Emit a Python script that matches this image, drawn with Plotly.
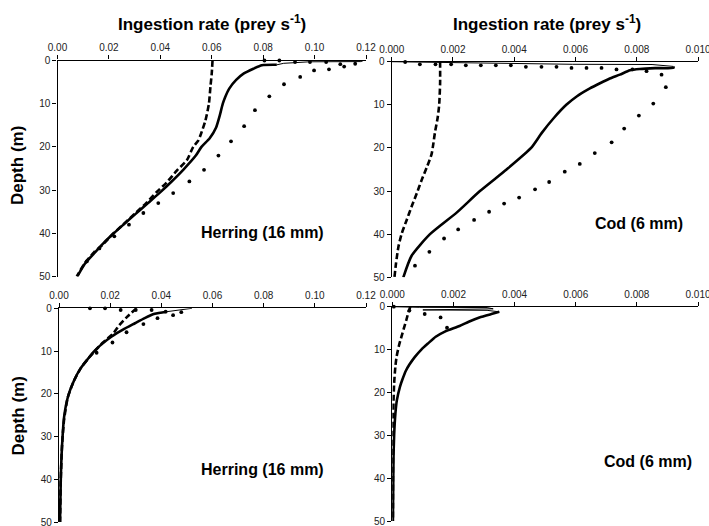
import plotly.graph_objects as go

# ---------------- data (ingestion rate vs depth) ----------------
# Top-left: Herring (16 mm)
tl_dash_d = [0, 3, 6, 10, 14, 17, 18.5, 20, 23.1, 25.5, 28.2, 30.5, 33, 35.5, 38, 40, 42.5, 44.4, 47, 50]
tl_dash_x = [0.0603, 0.0600, 0.0595, 0.0589, 0.0575, 0.0558, 0.0548, 0.0528, 0.0503, 0.0464, 0.0425,
             0.0385, 0.0345, 0.0300, 0.0255, 0.0218, 0.0178, 0.0142, 0.0105, 0.0075]
tl_surf_d = [0, 0.25, 0.3, 0.65, 1.0]
tl_surf_x = [0.119, 0.118, 0.098, 0.088, 0.0853]
tl_solid_d = [1.0, 1.1, 1.9, 3.0, 4.5, 6.5, 8.5, 10, 13, 15.5, 18, 20, 22, 25.3, 28, 30.7, 33, 35.5,
              37.7, 40, 42.2, 44.4, 47, 50]
tl_solid_x = [0.0853, 0.0795, 0.0762, 0.0725, 0.0695, 0.0668, 0.0652, 0.0643, 0.0630, 0.0617, 0.0592,
              0.0560, 0.0538, 0.0489, 0.0444, 0.0396, 0.0352, 0.0304, 0.0262, 0.0219, 0.0180, 0.0146,
              0.0107, 0.0077]
tl_dot_d = [0.0, 0.0, 0.35, 0.35, 0.35, 0.85, 0.75, 1.4, 2.05, 2.3, 3.8, 5.5, 8.3, 11.5, 15.2, 18.7,
            22.0, 25.3, 28.0, 30.7, 33.0, 35.3, 38.0, 40.7, 43.5, 46.5]
tl_dot_x = [0.0805, 0.0863, 0.0924, 0.0982, 0.1045, 0.1100, 0.1158, 0.1115, 0.1056, 0.0998, 0.0944,
            0.0881, 0.0824, 0.0768, 0.0726, 0.0675, 0.0626, 0.0570, 0.0513, 0.0450, 0.0392, 0.0334,
            0.0278, 0.0221, 0.0163, 0.0114]

# Top-right: Cod (6 mm)
tr_dash_d = [0, 5, 10, 13, 16.5, 19, 21.5, 24.6, 27.4, 30.5, 33.6, 36.7, 39.8, 42.9, 46.8, 50]
tr_dash_x = [0.00158, 0.00158, 0.00155, 0.00150, 0.00141, 0.00136, 0.00130, 0.00114, 0.00098,
             0.00082, 0.00065, 0.00049, 0.00033, 0.00022, 0.00014, 0.00009]
tr_surf_d = [0, 0.1, 0.3, 0.6, 0.65, 1.1]
tr_surf_x = [0.0, 0.0015, 0.0029, 0.0059, 0.0085, 0.0092]
tr_solid_d = [1.1, 1.4, 1.5, 1.7, 2.0, 3.0, 3.9, 5.0, 6.2, 8, 10, 13, 16.5, 20, 25, 30, 35, 40, 45, 50]
tr_solid_x = [0.0092, 0.0092, 0.0086, 0.0081, 0.00778, 0.00745, 0.00712, 0.00680, 0.00647, 0.00605,
              0.00570, 0.00530, 0.00490, 0.00455, 0.00375, 0.00288, 0.00212, 0.00125, 0.00065, 0.00038]
tr_dot_d = [0.07, 0.6, 0.6, 0.6, 0.84, 0.84, 0.84, 0.84, 1.2, 1.2, 1.2, 1.45, 1.45, 1.45, 1.8, 1.8,
            2.2, 3.0, 5.9, 9.7, 12.5, 15.5, 18.7, 21.2, 23.7, 25.5, 27.9, 29.6, 31.5, 32.9, 34.8,
            36.7, 38.9, 41.0, 44.1, 47.3]
tr_dot_x = [0.00044, 0.00092, 0.00143, 0.00194, 0.00242, 0.00291, 0.00340, 0.00389, 0.00438, 0.00489,
            0.00538, 0.00587, 0.00636, 0.00685, 0.00734, 0.00786, 0.00832, 0.00881, 0.00895, 0.00854,
            0.00807, 0.00759, 0.00718, 0.00663, 0.00614, 0.00565, 0.00514, 0.00468, 0.00416, 0.00367,
            0.00318, 0.00269, 0.00217, 0.00171, 0.00123, 0.00076]

# Bottom-left: Herring (16 mm)
bl_dash_d = [0, 2, 4, 5.9, 8, 10, 11.7, 14, 17, 20.7, 26, 32, 40, 50]
bl_dash_x = [0.0303, 0.0266, 0.0235, 0.0212, 0.0172, 0.0140, 0.0115, 0.0085, 0.0058, 0.0035, 0.0020,
             0.0012, 0.0007, 0.0004]
bl_surf_d = [0, 0.4, 0.8]
bl_surf_x = [0.052, 0.0478, 0.042]
bl_solid_d = [0.8, 1.3, 2.3, 3.5, 5, 6.6, 8.5, 10, 11.7, 14, 17, 20.7, 25.4, 33.2, 40, 50]
bl_solid_x = [0.042, 0.0374, 0.0335, 0.0297, 0.0250, 0.0206, 0.0165, 0.0138, 0.0115, 0.0085, 0.0058,
              0.0035, 0.0020, 0.0011, 0.0007, 0.0004]
bl_dot_d = [0, 0, 0.4, 0.4, 0.4, 0.8, 0.9, 1.6, 2.3, 3.7, 5.6, 8.0, 10.4]
bl_dot_x = [0.0121, 0.0180, 0.0241, 0.0300, 0.0362, 0.0417, 0.0478, 0.0446, 0.0385, 0.0330, 0.0264,
            0.0209, 0.0147]

# Bottom-right: Cod (6 mm)
br_dash_d = [0, 1.2, 3.1, 5, 7, 9, 11.7, 14, 17.9, 22, 26, 30, 35, 40, 45, 50]
br_dash_x = [0.00059, 0.00053, 0.00046, 0.00038, 0.00030, 0.00022, 0.00014, 0.00010, 0.00006,
             0.00004, 0.00003, 0.00003, 0.00002, 0.00002, 0.00002, 0.00002]
br_surf_d = [0, 0.15, 0.2, 0.5, 0.75, 0.85, 1.2]
br_surf_x = [0.0, 0.0009, 0.0031, 0.0033, 0.0010, 0.0031, 0.0035]
br_solid_d = [1.2, 1.6, 2.5, 3.5, 4.5, 5.8, 7, 8.5, 10, 11.7, 13.5, 15, 17, 18.7, 21.8, 25, 30, 35, 42, 50]
br_solid_x = [0.0035, 0.0033, 0.00285, 0.00250, 0.00220, 0.00172, 0.00142, 0.00118, 0.00095, 0.00074,
              0.00056, 0.00044, 0.00033, 0.00025, 0.00015, 0.00010, 0.00006, 0.00004, 0.00003, 0.00002]
br_dot_d = [0, 0.9, 1.7, 2.5, 4.9]
br_dot_x = [0.00005, 0.00056, 0.00106, 0.00158, 0.00179]

left_ticks = [0.00, 0.02, 0.04, 0.06, 0.08, 0.10, 0.12]
right_ticks = [0.000, 0.002, 0.004, 0.006, 0.008, 0.010]
depth_ticks = [0, 10, 20, 30, 40, 50]

x_title = "<b>Ingestion rate (prey s<sup>-1</sup>)</b>"
y_title = "<b>Depth (m)</b>"
labels = ["<b>Herring (16 mm)</b>", "<b>Cod (6 mm)</b>", "<b>Herring (16 mm)</b>", "<b>Cod (6 mm)</b>"]

# ---------------- figure ----------------
W, H = 709, 526
FONT = "Liberation Sans, Arial, sans-serif"
fig = go.Figure()

panels = [
    ("x", "y", tl_dash_x, tl_dash_d, tl_surf_x, tl_surf_d, tl_solid_x, tl_solid_d, tl_dot_x, tl_dot_d),
    ("x2", "y2", tr_dash_x, tr_dash_d, tr_surf_x, tr_surf_d, tr_solid_x, tr_solid_d, tr_dot_x, tr_dot_d),
    ("x3", "y3", bl_dash_x, bl_dash_d, bl_surf_x, bl_surf_d, bl_solid_x, bl_solid_d, bl_dot_x, bl_dot_d),
    ("x4", "y4", br_dash_x, br_dash_d, br_surf_x, br_surf_d, br_solid_x, br_solid_d, br_dot_x, br_dot_d),
]
for xa, ya, dx, dd, sx, sd, mx, md, ox, od in panels:
    fig.add_trace(go.Scatter(x=sx, y=sd, xaxis=xa, yaxis=ya, mode="lines",
                             line=dict(color="black", width=1), cliponaxis=False, showlegend=False))
    fig.add_trace(go.Scatter(x=mx, y=md, xaxis=xa, yaxis=ya, mode="lines",
                             line=dict(color="black", width=2.6, shape="spline", smoothing=0.6),
                             cliponaxis=False, showlegend=False))
    fig.add_trace(go.Scatter(x=dx, y=dd, xaxis=xa, yaxis=ya, mode="lines",
                             line=dict(color="black", width=2.6, dash="6px,3px", shape="spline", smoothing=0.6),
                             cliponaxis=False, showlegend=False))
    fig.add_trace(go.Scatter(x=ox, y=od, xaxis=xa, yaxis=ya, mode="markers",
                             marker=dict(color="black", size=3.8), cliponaxis=False, showlegend=False))

def xax(dom, anchor, rng, ticks, fmt):
    return dict(domain=dom, anchor=anchor, side="top", range=rng, tickvals=ticks, tickformat=fmt,
                showline=True, linecolor="black", linewidth=1.3, ticks="outside", ticklen=4,
                tickcolor="black", showgrid=False, zeroline=False, automargin=False,
                ticklabeloverflow="allow",
                tickfont=dict(family=FONT, size=10, color="#222"), fixedrange=True)

def yax(dom, anchor):
    return dict(domain=dom, anchor=anchor, range=[50, 0], tickvals=depth_ticks,
                showline=True, linecolor="black", linewidth=1.3, ticks="outside", ticklen=4,
                tickcolor="black", showgrid=False, zeroline=False, automargin=False,
                ticklabeloverflow="allow",
                tickfont=dict(family=FONT, size=10, color="#222"), fixedrange=True)

def px(v):
    return v / W

def py(v):
    return 1 - v / H

fig.update_layout(
    width=W, height=H, margin=dict(l=0, r=0, t=0, b=0, autoexpand=False),
    paper_bgcolor="white", plot_bgcolor="white", showlegend=False,
    xaxis=xax([px(57.5), px(366)], "y", [0, 0.12], left_ticks, ".2f"),
    xaxis2=xax([px(391.7), px(698)], "y2", [0, 0.010], right_ticks, ".3f"),
    xaxis3=xax([px(59), px(366)], "y3", [0, 0.12], left_ticks, ".2f"),
    xaxis4=xax([px(392.3), px(698)], "y4", [0, 0.010], right_ticks, ".3f"),
    yaxis=yax([py(276.5), py(60.5)], "x"),
    yaxis2=yax([py(277.3), py(61.7)], "x2"),
    yaxis3=yax([py(522), py(308.3)], "x3"),
    yaxis4=yax([py(521), py(306.7)], "x4"),
)

ann = []
for cx in (211.5, 546.5):
    ann.append(dict(text=x_title, x=px(cx), y=py(23), xref="paper", yref="paper", showarrow=False,
                    xanchor="center", yanchor="middle", font=dict(family=FONT, size=17, color="black")))
for cy in (166, 416.5):
    ann.append(dict(text=y_title, x=px(18), y=py(cy), xref="paper", yref="paper", showarrow=False,
                    textangle=-90, xanchor="center", yanchor="middle",
                    font=dict(family=FONT, size=17, color="black")))
for (cx, cy), t in zip([(262.5, 232.7), (638.5, 223.3), (262.5, 469), (648.3, 461.7)], labels):
    ann.append(dict(text=t, x=px(cx), y=py(cy), xref="paper", yref="paper", showarrow=False,
                    xanchor="center", yanchor="middle", font=dict(family=FONT, size=16, color="black")))
fig.update_layout(annotations=ann)

fig.write_html("out.html")
